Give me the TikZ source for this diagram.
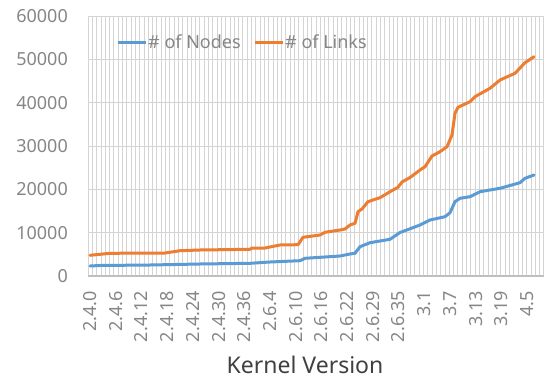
\documentclass[tikz,border=0pt]{standalone}
\usepackage{fontspec}
\setmainfont{Noto Sans}
\definecolor{nodesblue}{HTML}{5B9BD5}
\definecolor{linksorange}{HTML}{ED7D31}
\definecolor{gridgray}{HTML}{D4D4D4}
\definecolor{axisgray}{HTML}{BFBFBF}
\definecolor{ticktext}{HTML}{868686}
\definecolor{titletext}{HTML}{404040}
\tikzset{
  gridline/.style={draw=gridgray, line width=0.8pt},
  axisline/.style={draw=axisgray, line width=1.5pt},
  series/.style={line width=3pt, line join=round, line cap=round},
  ticklabel/.style={text=ticktext, font=\fontsize{18}{20}\selectfont, inner sep=0pt},
  legendtext/.style={text=ticktext, font=\fontsize{18}{20}\selectfont, inner sep=0pt, anchor=west},
  axistitle/.style={text=titletext, font=\fontsize{23}{26}\selectfont, inner sep=0pt}
}
\begin{document}
\begin{tikzpicture}[x=1pt,y=-1pt]
\useasboundingbox (0,0) rectangle (547,383);
\fill[white] (0,0) rectangle (547,383);
% vertical gridlines
\foreach \k in {0,...,106} {
  \draw[gridline] ({88+\k*4.3},16) -- ({88+\k*4.3},276);
}
% horizontal gridlines and y tick labels
\foreach \v [count=\i from 0] in {0,10000,20000,30000,40000,50000,60000} {
  \draw[gridline] (88,{276-\i*43.33}) -- (544,{276-\i*43.33});
  \node[ticklabel, anchor=east] (ytick\i) at (68,{276-\i*43.33}) {\v};
}
\draw[axisline] (88,276) -- (544,276);
% x tick labels
\foreach \lab [count=\i from 0] in {2.4.0,2.4.6,2.4.12,2.4.18,2.4.24,2.4.30,2.4.36,2.6.4,2.6.10,2.6.16,2.6.22,2.6.29,2.6.35,3.1,3.7,3.13,3.19,4.5} {
  \node[ticklabel, rotate=90, anchor=east] (xtick\i) at ({90.2+\i*25.7},291) {\lab};
}
% series: nodes
\draw[series, nodesblue] (90,266) -- (100,265.5) -- (150,265) -- (200,264) -- (250,263.3) -- (270,262) -- (300,260.7) -- (305,258.3) -- (340,256) -- (350,254) -- (355,253.3) -- (360,246.7) -- (370,242.7) -- (390,239.3) -- (400,232.5) -- (410,228.8) -- (420,225) -- (430,220) -- (445,216.7) -- (450,212.7) -- (455,201.7) -- (460,198.3) -- (470,196.7) -- (480,191.7) -- (500,188.3) -- (520,182.7) -- (525,178.3) -- (534,175);
% series: links
\draw[series, linksorange] (90,255.3) -- (110,253.3) -- (165,253) -- (180,250.7) -- (200,250) -- (250,249.3) -- (252,248) -- (265,248) -- (280,245) -- (298,244.7) -- (303,237.3) -- (320,235) -- (325,232.3) -- (340,230) -- (345,229) -- (350,225) -- (355,223.3) -- (358,211.7) -- (362,209) -- (368,201.7) -- (375,199.3) -- (380,197.7) -- (390,191.7) -- (398,187.3) -- (402,182) -- (410,177.5) -- (420,170) -- (425,166.7) -- (432,156) -- (440,151.7) -- (447,146.7) -- (452,135) -- (455,113.3) -- (458,107.3) -- (470,101.7) -- (475,96.7) -- (490,88.3) -- (500,80) -- (515,73.3) -- (525,62.7) -- (534,56.7);
% legend
\coordinate (lgA1) at (118,42); \coordinate (lgA2) at (146,42);
\coordinate (lgB1) at (255,42); \coordinate (lgB2) at (283,42);
\draw[series, nodesblue, line cap=butt] (lgA1) -- (lgA2);
\node[legendtext] (lgnodes) at (148,42) {\# of Nodes};
\draw[series, linksorange, line cap=butt] (lgB1) -- (lgB2);
\node[legendtext] (lglinks) at (285,42) {\# of Links};
% axis title
\node[axistitle] (xtitle) at (305,365) {Kernel Version};
\end{tikzpicture}
\end{document}
